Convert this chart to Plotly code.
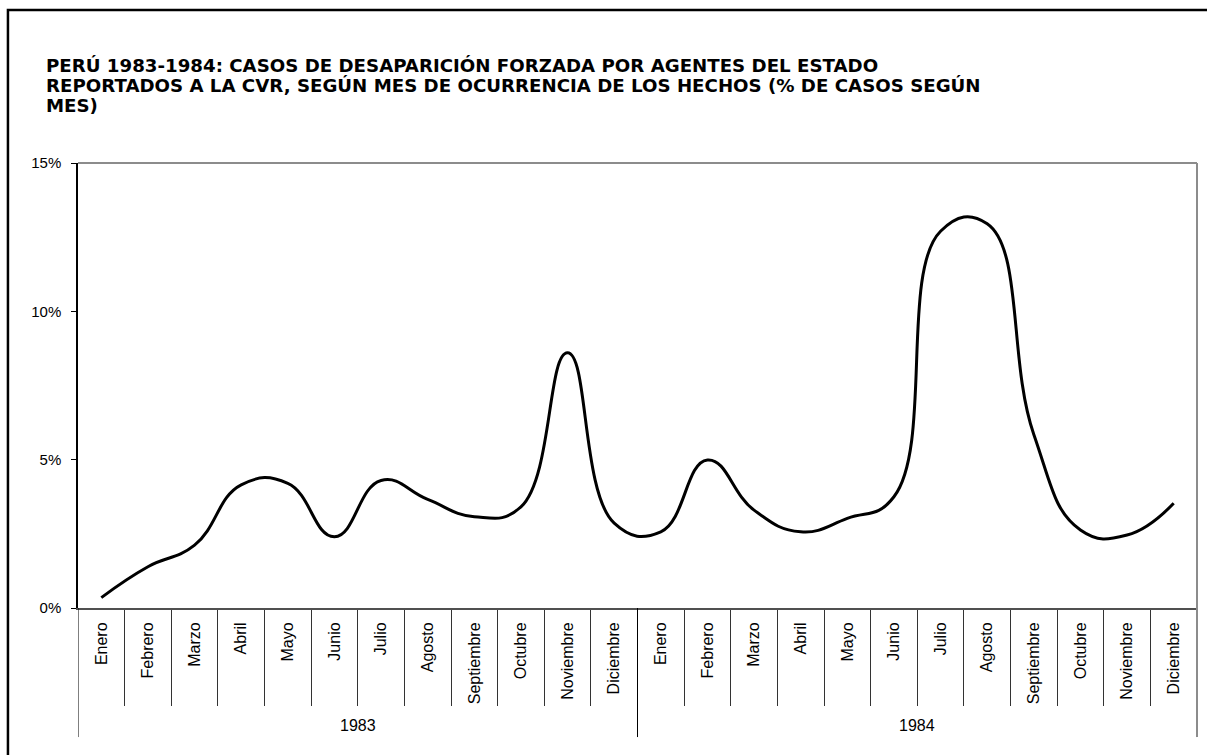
import plotly.graph_objects as go

months = ["Enero", "Febrero", "Marzo", "Abril", "Mayo", "Junio", "Julio", "Agosto",
          "Septiembre", "Octubre", "Noviembre", "Diciembre"]
years = ["1983", "1984"]
values_1983 = [0.35, 1.39, 2.12, 4.15, 4.2, 2.4, 4.3, 3.66, 3.08, 3.41, 8.6, 2.86]
values_1984 = [2.57, 4.99, 3.3, 2.57, 3.02, 3.75, 12.7, 12.95, 5.85, 2.63, 2.46, 3.53]
y_ticks = [0, 5, 10, 15]
title_lines = [
    "PERÚ 1983-1984: CASOS DE DESAPARICIÓN FORZADA POR AGENTES DEL ESTADO",
    "REPORTADOS A LA CVR, SEGÚN MES DE OCURRENCIA DE LOS HECHOS (% DE CASOS SEGÚN",
    "MES)",
]

labels = months * len(years)
values = values_1983 + values_1984
x = list(range(len(values)))

FONT = "Liberation Sans, Arial, sans-serif"
TITLE_FONT = "DejaVu Sans, Liberation Sans, sans-serif"

fig = go.Figure()
fig.add_trace(go.Scatter(
    x=x, y=values, mode="lines",
    line=dict(color="black", width=3, shape="spline", smoothing=1.3),
    hoverinfo="skip", showlegend=False,
))

n = len(values)
shapes = []
# year group dividers
for k in range(len(years) + 1):
    xb = k * len(months) - 0.5
    shapes.append(dict(type="line", xref="x", yref="paper", x0=xb, x1=xb, y0=0, y1=-0.29,
                       line=dict(color="black", width=1)))
# plot top / right border (gray)
shapes.append(dict(type="line", xref="paper", yref="paper", x0=0, x1=1, y0=1, y1=1,
                   line=dict(color="#8c8c8c", width=2)))
shapes.append(dict(type="line", xref="paper", yref="paper", x0=1, x1=1, y0=-0.29, y1=1,
                   line=dict(color="#8c8c8c", width=2)))
# outer chart border
shapes.append(dict(type="rect", xref="paper", yref="paper", x0=-0.0626, x1=1.05, y0=-0.4, y1=1.3438,
                   line=dict(color="black", width=2.5), layer="below"))

annotations = []
for k, yr in enumerate(years):
    annotations.append(dict(text=yr, x=k * len(months) + (len(months) - 1) / 2, xref="x",
                            y=-0.263, yref="paper", showarrow=False,
                            font=dict(family=FONT, size=16, color="black"),
                            xanchor="center", yanchor="middle"))
for i, line in enumerate(title_lines):
    cy = 65 + 20.3 * i  # pixel center of the line from top of figure
    annotations.append(dict(
        text=line, xref="paper", yref="paper",
        x=(44 - 78) / 1119, y=(608 - cy) / 445, xanchor="left", yanchor="middle",
        align="left", showarrow=False,
        font=dict(family=TITLE_FONT, size=18.2, color="black", weight="bold"),
    ))

fig.update_layout(
    width=1207, height=755,
    margin=dict(l=78, r=10, t=163, b=147),
    paper_bgcolor="white", plot_bgcolor="white",
    shapes=shapes, annotations=annotations,
    xaxis=dict(
        range=[-0.5, n - 0.5], tickmode="array", tickvals=x, ticktext=labels,
        tickangle=-90, ticks="", showgrid=False, zeroline=False,
        showline=True, linecolor="#505050", linewidth=2,
        tickfont=dict(family=FONT, size=16, color="black"),
        ticklabelstandoff=6,
        minor=dict(tickmode="array", tickvals=[i - 0.5 for i in range(1, n)],
                   ticks="outside", ticklen=96, tickcolor="#333333", tickwidth=1, showgrid=False),
    ),
    yaxis=dict(
        range=[0, 15], tickmode="array", tickvals=y_ticks, ticktext=[f"{v}%" for v in y_ticks],
        ticks="outside", ticklen=5, tickcolor="black", showgrid=False, zeroline=False,
        showline=True, linecolor="black", linewidth=1.5,
        tickfont=dict(family=FONT, size=15, color="black"),
        ticklabelstandoff=7,
    ),
)

fig.write_html("out.html", config={"displayModeBar": False},
               post_script="document.body.style.margin='0';document.body.style.overflow='hidden';")
